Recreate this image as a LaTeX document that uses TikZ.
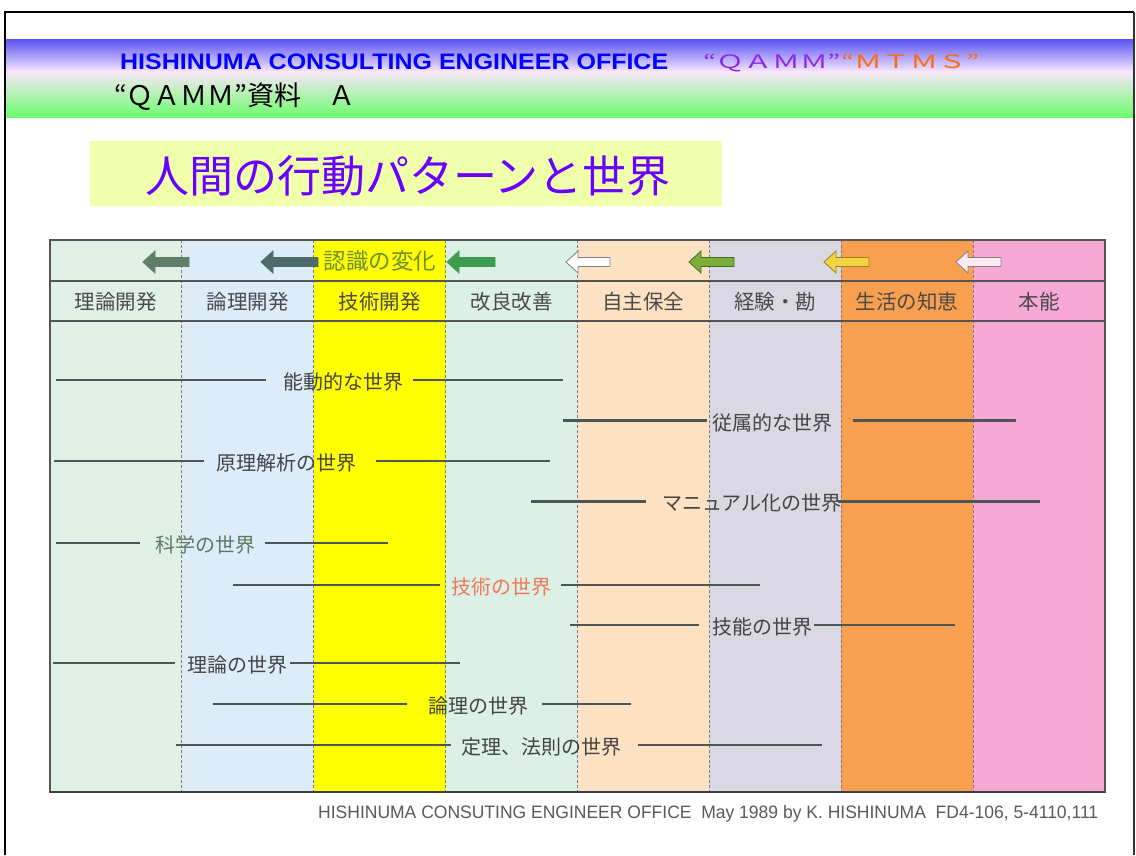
\documentclass[tikz,border=0pt]{standalone}
\usepackage{fontspec}
\usepackage{graphicx}
\setmainfont{Liberation Sans}
\newfontfamily\jp{Noto Sans CJK JP}
\definecolor{bandtop}{HTML}{5A52F2}
\definecolor{bandmid}{HTML}{F4E4FF}
\definecolor{bandpink}{HTML}{FBE6FB}
\definecolor{bandlg}{HTML}{DDF2DD}
\definecolor{bandgreen}{HTML}{6CFC6C}
\definecolor{hblue}{HTML}{0000FF}
\definecolor{hpurple}{HTML}{8A28E6}
\definecolor{horange}{HTML}{FF6A10}
\definecolor{titlebg}{HTML}{F0FFAA}
\definecolor{titletext}{HTML}{6A00FF}
\definecolor{cA}{HTML}{DFF0E5}
\definecolor{cB}{HTML}{DCEDF9}
\definecolor{cC}{HTML}{FFFF00}
\definecolor{cD}{HTML}{DCF1E6}
\definecolor{cE}{HTML}{FDE1C3}
\definecolor{cF}{HTML}{D9D8E3}
\definecolor{cG}{HTML}{F8A04F}
\definecolor{cH}{HTML}{F7A9D5}
\definecolor{wl}{HTML}{4C5656}
\definecolor{lbl}{HTML}{444444}
\definecolor{lblgreen}{HTML}{5C7A62}
\definecolor{lblred}{HTML}{F07858}
\definecolor{hdr}{HTML}{4A4A4A}
\definecolor{sepc}{HTML}{7A7A7A}
\definecolor{rule}{HTML}{555555}
\definecolor{olive}{HTML}{6F8F2F}
\definecolor{arA}{HTML}{5F7F68}
\definecolor{arB}{HTML}{4D6B6B}
\definecolor{arC}{HTML}{3C9C50}
\definecolor{arE}{HTML}{7AB038}
\definecolor{arEd}{HTML}{4A6A30}
\definecolor{arF}{HTML}{F2D440}
\definecolor{arFd}{HTML}{A08020}
\definecolor{arG}{HTML}{FBEAF2}
\definecolor{arout}{HTML}{808080}
\definecolor{foot}{HTML}{5A5A5A}
\tikzset{
  wline/.style={line width=2.8pt, draw=wl},
  wlabel/.style={inner sep=0pt, font=\jp\fontsize{20}{20}\selectfont, text=lbl},
  colhead/.style={inner sep=0pt, font=\jp\fontsize{20.5}{20.5}\selectfont, text=hdr},
  colsep/.style={draw=sepc, line width=0.8pt, densely dashed},
  hrule/.style={draw=rule, line width=1.6pt},
  blockarrow/.style={line width=0.8pt, line join=miter},
}
\newcommand\wrow[9]{%
  \coordinate (#1a) at (#3,#2); \coordinate (#1b) at (#4,#2);
  \coordinate (#1c) at (#7,#2); \coordinate (#1d) at (#8,#2);
  \node[wlabel, text=#9] (#1) at (#5,{#2+2}) {#6};
  \draw[wline] (#1a) -- (#1b);
  \draw[wline] (#1c) -- (#1d);}
\newcommand\larrow[5]{%
  \filldraw[blockarrow, fill=#4, draw=#5] (#1,#3) -- ({#1+12},{#3-11}) -- ({#1+12},{#3-4.5}) -- (#2,{#3-4.5}) -- (#2,{#3+4.5}) -- ({#1+12},{#3+4.5}) -- ({#1+12},{#3+11}) -- cycle;}
\begin{document}
\begin{tikzpicture}[x=1pt,y=-1pt]
\useasboundingbox (0,0) rectangle (1136,855);
\fill[white] (0,0) rectangle (1136,855);
% header band
\shade[top color=bandtop, bottom color=bandmid] (6,39) rectangle (1134,71);
\shade[top color=bandpink, middle color=bandlg, bottom color=bandgreen] (6,71) rectangle (1134,117);
% frame
\draw[black, line width=2.2pt] (5,855) -- (5,12) -- (1134,12);
\draw[black!80, line width=1.5pt] (1134,12) -- (1134,855);
% header texts
\node[anchor=base west, inner sep=0pt, text=hblue] (hoffice) at (120,69)
  {\resizebox{548pt}{\height}{\fontsize{22.4}{24}\selectfont\bfseries HISHINUMA CONSULTING ENGINEER OFFICE}};
\node[anchor=base west, inner sep=0pt] (hqamm) at (703,68)
  {\resizebox{276pt}{\height}{\jp\fontsize{18.5}{20}\selectfont{\color{hpurple}“ＱＡＭＭ”}{\color{horange}“ＭＴＭＳ”}}};
\node[anchor=base west, inner sep=0pt, text=black] (hdoc) at (114,105)
  {\scalebox{1.0}[1]{\jp\fontsize{27}{28}\selectfont “ＱＡＭＭ”資料　Ａ}};
% title
\node[fill=titlebg, minimum width=632pt, minimum height=65pt, inner sep=0pt] (tbox) at (406,173.5) {};
\node[inner sep=0pt, text=titletext, font=\jp\fontsize{44}{44}\selectfont] (title) at (408,176) {人間の行動パターンと世界};
% columns
\foreach \i/\c in {0/cA,1/cB,2/cC,3/cD,4/cE,5/cF,6/cG,7/cH}
  \fill[\c] ({50+131.875*\i},240) rectangle ({50+131.875*(\i+1)},792);
\foreach \i in {1,...,7}
  \draw[colsep] ({50+131.875*\i},240) -- ({50+131.875*\i},792);
\draw[hrule] (50,281) -- (1105,281);
\draw[hrule] (50,321) -- (1105,321);
\draw[draw=rule, line width=1.6pt] (50,240) rectangle (1105,792);
\draw[draw=black!75, line width=2pt] (50,792) -- (1105,792);
% arrow row
\larrow{143}{189}{262}{arA}{arA}
\larrow{261}{318}{262}{arB}{arB}
\node[inner sep=0pt, text=olive, font=\jp\fontsize{22.5}{22.5}\selectfont] (ninshiki) at (380,261) {認識の変化};
\larrow{447}{495}{262}{arC}{arC}
\larrow{566}{610}{262}{white}{arout}
\larrow{689}{734}{262}{arE}{arEd}
\larrow{824}{869}{262}{arF}{arFd}
\larrow{956}{1001}{262}{arG}{arout}
% column headers
\node[colhead] (hd1) at (115.9,302) {理論開発};
\node[colhead] (hd2) at (247.8,302) {論理開発};
\node[colhead] (hd3) at (379.7,302) {技術開発};
\node[colhead] (hd4) at (511.6,302) {改良改善};
\node[colhead] (hd5) at (643.4,302) {自主保全};
\node[colhead] (hd6) at (775.3,302) {経験・勘};
\node[colhead] (hd7) at (907.2,302) {生活の知恵};
\node[colhead] (hd8) at (1039.1,302) {本能};
% worlds
\wrow{wa}{380}{56}{266}{343.5}{能動的な世界}{413}{563}{lbl}
\wrow{wb}{420.5}{563}{707}{772.5}{従属的な世界}{853}{1016}{lbl}
\wrow{wc}{461}{54}{204}{286}{原理解析の世界}{376}{550}{lbl}
\wrow{wd}{501.5}{531}{646}{752}{マニュアル化の世界}{838}{1040}{lbl}
\wrow{we}{543}{56}{140}{205.5}{科学の世界}{265}{388}{lblgreen}
\wrow{wf}{585}{233}{440}{501.5}{技術の世界}{561}{760}{lblred}
\wrow{wg}{625}{570}{699}{762}{技能の世界}{814}{955}{lbl}
\wrow{wh}{663}{53}{175}{237.5}{理論の世界}{290}{460}{lbl}
\wrow{wi}{704}{213}{407}{478}{論理の世界}{542}{631}{lbl}
\wrow{wj}{745}{176}{451}{541.5}{定理、法則の世界}{638}{822}{lbl}
% footer
\node[anchor=base west, inner sep=0pt, text=foot] (footer) at (318,818)
  {\resizebox{780pt}{\height}{\fontsize{18}{18}\selectfont HISHINUMA CONSUTING ENGINEER OFFICE\ \ May 1989 by K. HISHINUMA\ \ FD4-106, 5-4110,111}};
\end{tikzpicture}
\end{document}
